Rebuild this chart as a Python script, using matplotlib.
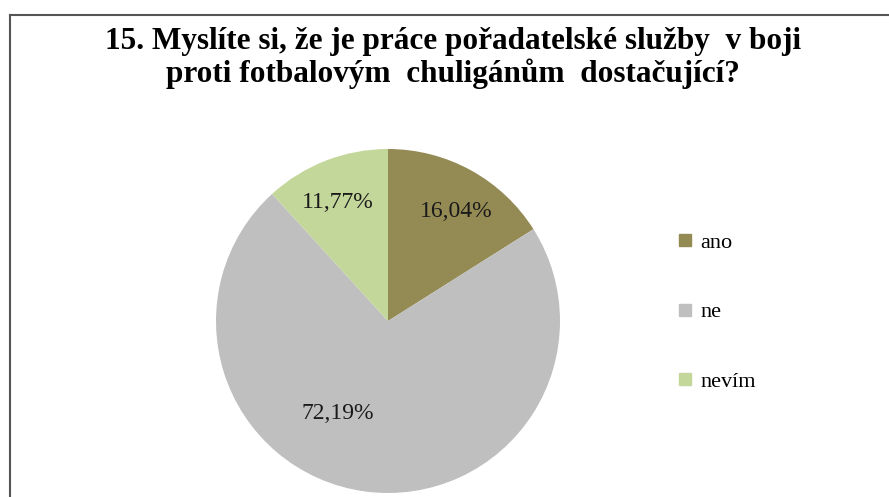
import matplotlib.pyplot as plt
import numpy as np
from matplotlib.lines import Line2D

# Data
labels = ['ano', 'ne', 'nevím']
values = [16.04, 72.19, 11.77]
colors = ['#948A54', '#BFBFBF', '#C4D79B']
title = ('15. Myslíte si, že je práce pořadatelské služby  v boji\n'
         'proti fotbalovým  chuligánům  dostačující?')

plt.rcParams['font.family'] = ['Liberation Serif', 'DejaVu Serif']

W, H = 889, 497
fig = plt.figure(figsize=(W / 100, H / 100), dpi=100)

# Pie axes: centre (388, 321), radius 172 px
cx, cy, r = 388, 321, 172
ax = fig.add_axes([(cx - r) / W, 1 - (cy + r) / H, 2 * r / W, 2 * r / H])

wedges, texts, autotexts = ax.pie(
    values, colors=colors, startangle=90, counterclock=False,
    autopct=lambda p: f'{p:.2f}%'.replace('.', ','),
    pctdistance=0.73, textprops={'fontsize': 17, 'color': '#1a1a1a'})
ax.set_xlim(-1, 1)
ax.set_ylim(-1, 1)
ax.set_aspect('auto')

# label placement like Excel did it (radius fraction, angle shift in degrees)
for w, t, (d, shift) in zip(wedges, autotexts,
                            [(0.75, -3), (0.61, -20.7), (0.75, 1.6)]):
    ang = np.deg2rad((w.theta1 + w.theta2) / 2 + shift)
    t.set_position((d * np.cos(ang), d * np.sin(ang)))

fig.text(453 / W, 1 - 58 / H, title, ha='center', va='center',
         fontsize=22.5, fontweight='bold', linespacing=1.08)

# legend
handles = [Line2D([], [], marker='s', linestyle='none', markersize=8.5,
                  markerfacecolor=c, markeredgecolor=c) for c in colors]
fig.legend(handles, labels, loc='center left',
           bbox_to_anchor=(676 / W, 1 - 312 / H), frameon=False,
           fontsize=16, labelspacing=2.2, handlelength=0.8,
           handletextpad=0.3, borderaxespad=0, borderpad=0)

# chart border (only top and left visible in the crop)
fig.add_artist(Line2D([9.5 / W, 1], [1 - 14.5 / H, 1 - 14.5 / H],
                      transform=fig.transFigure, color='#555555', lw=1.5))
fig.add_artist(Line2D([9.5 / W, 9.5 / W], [0, 1 - 14.5 / H],
                      transform=fig.transFigure, color='#555555', lw=1.5))

fig.savefig('out.png', dpi=100)
